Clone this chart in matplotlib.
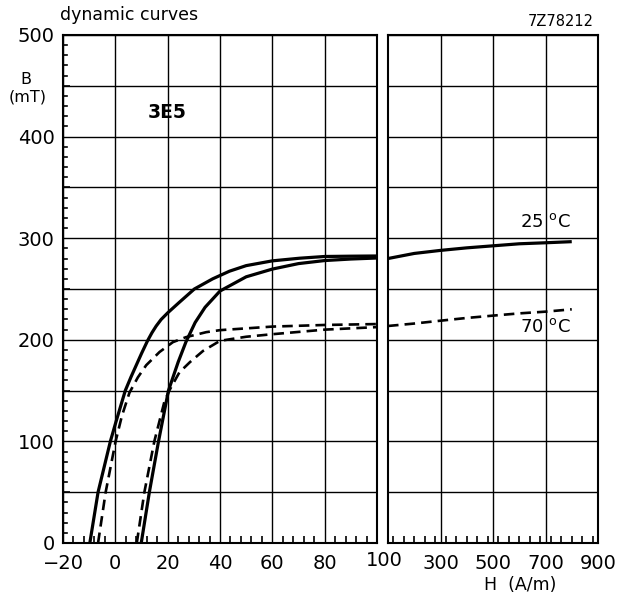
import matplotlib.pyplot as plt
from matplotlib.ticker import MultipleLocator
import numpy as np

# 25 oC loop branches, low-field panel (H in A/m, B in mT)
h25_a = [-9.75, -6.6, -1.9, 0.1, 3.8, 6, 8, 10, 12.3, 14, 15.6, 17.5, 20, 24.5, 30.2, 37.2, 43.6, 50, 60, 70.4, 80, 90, 100]
b25_a = [0, 50, 100, 118, 150, 163.5, 175, 186.5, 199, 207, 213.5, 220, 226.5, 237, 250, 260, 267.5, 273, 277.7, 280.3, 282, 282.3, 282.5]
h25_b = [9.9, 13, 16.5, 20.3, 24, 27, 30.5, 34.3, 40, 50, 60, 70, 80, 90, 100]
b25_b = [0, 50, 100, 150, 178, 198, 217, 232, 248, 262, 269.6, 275, 278, 279.5, 280.5]

# 70 oC
h70_a = [-6.6, -3.7, 0.1, 2.5, 5.4, 8.6, 11.8, 16.9, 22, 27, 34.7, 40, 60, 80, 100]
b70_a = [0, 50, 100, 125, 148, 163, 175, 188, 197.7, 202.6, 207.5, 209.5, 213, 214.6, 215.5]
h70_b = [8.2, 11.1, 14.9, 18.7, 20.6, 24.5, 28.5, 33.5, 40, 50, 60, 80, 100]
b70_b = [0, 50, 100, 138.6, 150, 168, 178, 189, 199, 203, 205.5, 210, 212.5]

# high-field panel
h_hi = [100, 200, 300, 400, 500, 600, 700, 800]
b25_hi = [280, 285, 288, 290.5, 292.5, 294.5, 295.5, 296.6]
b70_hi = [213.6, 216, 218.8, 221.5, 223.8, 226, 227.7, 230]

x_lo_ticks = [-20, 0, 20, 40, 60, 80]
x_hi_ticks = [300, 500, 700, 900]
y_ticks = [0, 100, 200, 300, 400, 500]

fs = 14
fig = plt.figure(figsize=(6.17, 5.99), dpi=100)
ax1 = fig.add_axes([63/617, 1-543/599, 314/617, 508/599])
ax2 = fig.add_axes([388/617, 1-543/599, 210/617, 508/599])

solid = dict(color='black', lw=2.3, solid_capstyle='butt', solid_joinstyle='round')
dash = dict(color='black', lw=1.9, dashes=(4, 2.3))

ax1.plot(h25_a, b25_a, **solid)
ax1.plot(h25_b, b25_b, **solid)
ax1.plot(h70_a, b70_a, **dash)
ax1.plot(h70_b, b70_b, **dash)
ax2.plot(h_hi, b25_hi, **solid)
ax2.plot(h_hi, b70_hi, **dash)

for ax in (ax1, ax2):
    ax.set_ylim(0, 500)
    ax.set_yticks(y_ticks)
    ax.yaxis.set_minor_locator(MultipleLocator(50))
    ax.grid(True, which='major', color='black', lw=1.0)
    ax.grid(True, which='minor', axis='y', color='black', lw=1.0)
    for s in ax.spines.values():
        s.set_linewidth(1.5)
    ax.tick_params(which='both', direction='in', colors='black', labelsize=fs)

ax1.set_xlim(-20, 100)
ax1.set_xticks(x_lo_ticks + [100])
ax1.set_xticklabels([str(v).replace('-', '\u2212') for v in x_lo_ticks] + [''])
ax1.xaxis.set_minor_locator(MultipleLocator(4))
ax1.tick_params(axis='y', which='major', length=0, pad=6)
ax1.set_yticklabels([str(v) for v in y_ticks])
ax1.tick_params(axis='x', which='major', length=0, pad=8)
ax1.tick_params(which='minor', length=5, width=1.2)
# y minor ticks every 10 on the left spine
for v in np.arange(10, 500, 10):
    if v % 50:
        ax1.plot([-20, -18.3], [v, v], color='black', lw=1.2, clip_on=False)

ax2.set_xlim(100, 900)
ax2.set_xticks(x_hi_ticks)
ax2.set_xticklabels([str(v) for v in x_hi_ticks])
ax2.xaxis.set_minor_locator(MultipleLocator(40))
ax2.tick_params(axis='y', which='both', length=0, labelleft=False)
ax2.tick_params(axis='x', which='major', length=0, pad=8)
ax2.tick_params(axis='x', which='minor', length=5, width=1.2)

fig.text(384/617, 1-560/599, '100', ha='center', va='center', fontsize=fs)
fig.text(60/617, 1-15/599, 'dynamic curves', ha='left', va='center', fontsize=12.5)
fig.text(561/617, 1-22/599, '7Z78212', ha='center', va='center', fontsize=10.5)
fig.text(26/617, 1-79/599, 'B', ha='center', va='center', fontsize=11.5)
fig.text(28/617, 1-97/599, '(mT)', ha='center', va='center', fontsize=11.5)
fig.text(167/617, 1-113/599, '3E5', ha='center', va='center', fontsize=13.5, fontweight='bold')
fig.text(520/617, 1-585/599, 'H  (A/m)', ha='center', va='center', fontsize=12.5)
fig.text(545/617, 1-222/599, '25 $^{\\mathrm{o}}$C', ha='center', va='center', fontsize=13)
fig.text(545/617, 1-327/599, '70 $^{\\mathrm{o}}$C', ha='center', va='center', fontsize=13)

fig.savefig('out.png', dpi=100)
